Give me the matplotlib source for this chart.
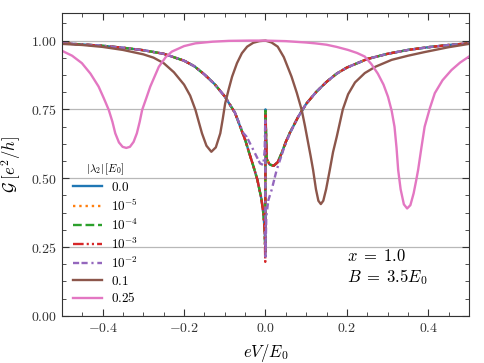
import matplotlib
matplotlib.use("Agg")
import matplotlib.pyplot as plt
from matplotlib.ticker import MultipleLocator, FuncFormatter

plt.rcParams['mathtext.fontset'] = 'cm'
plt.rcParams['font.family'] = ['DejaVu Serif']

# ---------------- data ----------------
# main family (|lambda_2| = 0, 1e-5, 1e-4, 1e-3), left and right wings
x_left = [-0.5, -0.45, -0.4, -0.35, -0.3, -0.25, -0.2, -0.175, -0.15, -0.125,
          -0.1, -0.075, -0.05, -0.04, -0.03, -0.02, -0.01, -0.005, -0.002]
y_left = [0.990, 0.986, 0.981, 0.974, 0.965, 0.952, 0.927, 0.907, 0.877, 0.842,
          0.797, 0.738, 0.640, 0.592, 0.545, 0.495, 0.425, 0.370, 0.310]
x_right = [0.003, 0.01, 0.02, 0.03, 0.04, 0.05, 0.06, 0.08, 0.1, 0.125, 0.15,
           0.175, 0.2, 0.25, 0.3, 0.35, 0.4, 0.45, 0.5]
y_right = [0.570, 0.550, 0.545, 0.558, 0.592, 0.632, 0.665, 0.722, 0.770, 0.814,
           0.850, 0.880, 0.902, 0.933, 0.952, 0.966, 0.976, 0.984, 0.990]

x_center = [-0.0005, 0.0]
y_center_0 = [0.250, 0.750]
y_center_1e5 = [0.240, 0.752]
y_center_1e4 = [0.230, 0.745]
y_center_1e3 = [0.196, 0.735]

# |lambda_2| = 1e-2 : deviates near zero bias
x_l2 = [-0.5, -0.45, -0.4, -0.35, -0.3, -0.25, -0.2, -0.175, -0.15, -0.125,
        -0.1, -0.075, -0.055, -0.046, -0.03, -0.0135, -0.0054, -0.002, -0.0005,
        0.0, 0.002, 0.007, 0.015, 0.0275, 0.044, 0.06, 0.08, 0.1, 0.125, 0.15,
        0.175, 0.2, 0.25, 0.3, 0.35, 0.4, 0.45, 0.5]
y_l2 = [0.990, 0.986, 0.981, 0.974, 0.965, 0.952, 0.927, 0.907, 0.877, 0.842,
        0.797, 0.738, 0.665, 0.650, 0.603, 0.554, 0.548, 0.600, 0.710,
        0.215, 0.360, 0.420, 0.457, 0.530, 0.603, 0.663, 0.722, 0.770, 0.814,
        0.850, 0.880, 0.902, 0.933, 0.952, 0.966, 0.976, 0.984, 0.990]

# |lambda_2| = 0.1
x_b = [-0.5, -0.45, -0.4, -0.35, -0.3, -0.275, -0.25, -0.225, -0.2, -0.185,
       -0.172, -0.163, -0.156, -0.145, -0.133, -0.122, -0.111, -0.105, -0.099,
       -0.09, -0.082, -0.07, -0.058, -0.045, -0.03, -0.015, 0.0, 0.015, 0.03,
       0.045, 0.064, 0.077, 0.089, 0.097, 0.105, 0.111, 0.117, 0.124, 0.13,
       0.136, 0.142, 0.149, 0.158, 0.166, 0.175, 0.19, 0.203, 0.22, 0.244,
       0.27, 0.31, 0.35, 0.39, 0.45, 0.5]
y_b = [0.988, 0.984, 0.977, 0.966, 0.950, 0.938, 0.918, 0.885, 0.840, 0.800,
       0.748, 0.700, 0.663, 0.618, 0.596, 0.612, 0.663, 0.715, 0.772,
       0.825, 0.869, 0.918, 0.954, 0.978, 0.992, 0.998, 1.000, 0.993, 0.978,
       0.940, 0.869, 0.810, 0.748, 0.690, 0.627, 0.580, 0.530, 0.460, 0.418,
       0.406, 0.418, 0.460, 0.530, 0.595, 0.650, 0.750, 0.805, 0.848, 0.882,
       0.905, 0.930, 0.945, 0.958, 0.976, 0.988]

# |lambda_2| = 0.25
x_p = [-0.5, -0.475, -0.451, -0.43, -0.41, -0.397, -0.385, -0.376, -0.369,
       -0.36, -0.351, -0.342, -0.333, -0.324, -0.316, -0.309, -0.303, -0.293,
       -0.283, -0.262, -0.245, -0.23, -0.2, -0.172, -0.13, -0.09, -0.04, 0.0,
       0.05, 0.1, 0.122, 0.15, 0.175, 0.203, 0.225, 0.244, 0.26, 0.276, 0.29,
       0.301, 0.31, 0.317, 0.322, 0.326, 0.332, 0.34, 0.348, 0.356, 0.364,
       0.37, 0.375, 0.383, 0.391, 0.404, 0.416, 0.435, 0.457, 0.478, 0.5]
y_p = [0.963, 0.945, 0.918, 0.880, 0.833, 0.790, 0.748, 0.705, 0.663,
       0.630, 0.614, 0.610, 0.614, 0.632, 0.663, 0.705, 0.748, 0.790,
       0.833, 0.905, 0.940, 0.960, 0.980, 0.990, 0.996, 0.999, 1.000, 1.000,
       0.998, 0.993, 0.990, 0.985, 0.977, 0.966, 0.955, 0.942, 0.915, 0.880,
       0.840, 0.796, 0.745, 0.687, 0.610, 0.530, 0.460, 0.405, 0.390, 0.402,
       0.445, 0.490, 0.530, 0.610, 0.687, 0.755, 0.809, 0.856, 0.893, 0.920,
       0.942]

labels = [r"$0.0$", r"$10^{-5}$", r"$10^{-4}$", r"$10^{-3}$", r"$10^{-2}$",
          r"$0.1$", r"$0.25$"]

# ---------------- figure ----------------
fig = plt.figure(figsize=(4.84, 3.63), dpi=100)
ax = fig.add_axes([0.128, 0.130, 0.841, 0.834])

lw = 1.7
main_x = x_left + x_center + x_right
ax.plot(main_x, y_left + y_center_0 + y_right, color='C0', lw=lw, ls='-',
        label=labels[0])
ax.plot(main_x, y_left + y_center_1e5 + y_right, color='C1', lw=lw, ls=':',
        label=labels[1])
ax.plot(main_x, y_left + y_center_1e4 + y_right, color='C2', lw=lw, ls='--',
        label=labels[2])
ax.plot(main_x, y_left + y_center_1e3 + y_right, color='C3', lw=lw,
        ls=(0, (4.5, 1.3, 0.9, 1.3, 0.9, 1.3)), label=labels[3])
ax.plot(x_l2, y_l2, color='C4', lw=lw,
        ls=(0, (2.6, 1.0, 2.6, 1.6, 0.9, 1.6)), label=labels[4])
ax.plot(x_b, y_b, color='C5', lw=lw, ls='-', label=labels[5])
ax.plot(x_p, y_p, color='C6', lw=lw, ls='-', label=labels[6])

ax.set_xlim(-0.5, 0.5)
ax.set_ylim(0.0, 1.1)
ax.xaxis.set_major_locator(MultipleLocator(0.2))
ax.xaxis.set_minor_locator(MultipleLocator(0.05))
ax.yaxis.set_major_locator(MultipleLocator(0.25))
ax.yaxis.set_minor_locator(MultipleLocator(0.0625))
ax.xaxis.set_major_formatter(FuncFormatter(lambda v, p: r"$%.1f$" % (0.0 if abs(v) < 1e-9 else v)))
ax.yaxis.set_major_formatter(FuncFormatter(lambda v, p: r"$%.2f$" % v))
ax.tick_params(which='both', direction='in', top=True, right=True,
               colors='0.2', labelsize=10)
ax.tick_params(which='major', length=5, width=0.8)
ax.tick_params(which='minor', length=3, width=0.6)
for s in ax.spines.values():
    s.set_color('0.2')
ax.grid(axis='y', which='major', color='#b8b8b8', lw=0.9)
ax.set_axisbelow(True)

ax.set_xlabel(r"$eV/E_0$", fontsize=12, labelpad=5)
ax.set_ylabel(r"$\mathcal{G}\;[e^2/h]$", fontsize=12, labelpad=6)

ax.text(0.2, 0.175, "$x\\;=\\;1.0$\n$B\\;=\\;3.5E_0$", fontsize=12,
        va='center', ha='left', linespacing=1.1)

leg = ax.legend(loc='lower left', frameon=False, fontsize=9.5,
                title=r"$|\lambda_2|\,[E_0]$", title_fontsize=8,
                handlelength=2.2, labelspacing=0.28, borderaxespad=0.4,
                handletextpad=0.7)

fig.savefig("out.png", dpi=100)
